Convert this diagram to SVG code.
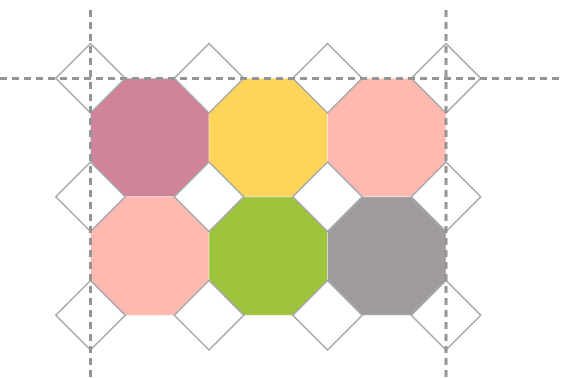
<svg xmlns="http://www.w3.org/2000/svg" width="561" height="378" viewBox="0 0 561 378">
<style>
.oct{stroke:#ffffff;stroke-opacity:0.35;stroke-width:1}
.sq{fill:#fff;stroke:#a8a8a8;stroke-width:1.6}
.guide{stroke:#959595;stroke-width:3;stroke-dasharray:7,5;fill:none}
</style>
<defs>
<polygon id="o" points="-24.55,-59.25 24.55,-59.25 59.25,-24.55 59.25,24.55 24.55,59.25 -24.55,59.25 -59.25,24.55 -59.25,-24.55"/>
<polygon id="s" points="0,-34.7 34.7,0 0,34.7 -34.7,0"/>
</defs>
<rect width="561" height="378" fill="#fff"/>
<g id="octagons">
<g id="oct-r1c1"><use href="#o" x="149.75" y="137.5" class="oct" fill="#D0849A"/></g>
<g id="oct-r1c2"><use href="#o" x="268.25" y="137.5" class="oct" fill="#FFD45A"/></g>
<g id="oct-r1c3"><use href="#o" x="386.75" y="137.5" class="oct" fill="#FFB9B1"/></g>
<g id="oct-r2c1"><use href="#o" x="149.75" y="256" class="oct" fill="#FFB9B1"/></g>
<g id="oct-r2c2"><use href="#o" x="268.25" y="256" class="oct" fill="#9DC43C"/></g>
<g id="oct-r2c3"><use href="#o" x="386.75" y="256" class="oct" fill="#A09C9B"/></g>
</g>
<g id="squares">
<use href="#s" class="sq" x="90.5" y="78.25"/>
<use href="#s" class="sq" x="209" y="78.25"/>
<use href="#s" class="sq" x="327.5" y="78.25"/>
<use href="#s" class="sq" x="446" y="78.25"/>
<use href="#s" class="sq" x="90.5" y="196.75"/>
<use href="#s" class="sq" x="209" y="196.75"/>
<use href="#s" class="sq" x="327.5" y="196.75"/>
<use href="#s" class="sq" x="446" y="196.75"/>
<use href="#s" class="sq" x="90.5" y="315.25"/>
<use href="#s" class="sq" x="209" y="315.25"/>
<use href="#s" class="sq" x="327.5" y="315.25"/>
<use href="#s" class="sq" x="446" y="315.25"/>
</g>
<g id="connectors">
<line class="guide" x1="0" y1="78.5" x2="561" y2="78.5"/>
<line class="guide" x1="90.5" y1="10" x2="90.5" y2="378"/>
<line class="guide" x1="446" y1="10" x2="446" y2="378"/>
</g>
</svg>
